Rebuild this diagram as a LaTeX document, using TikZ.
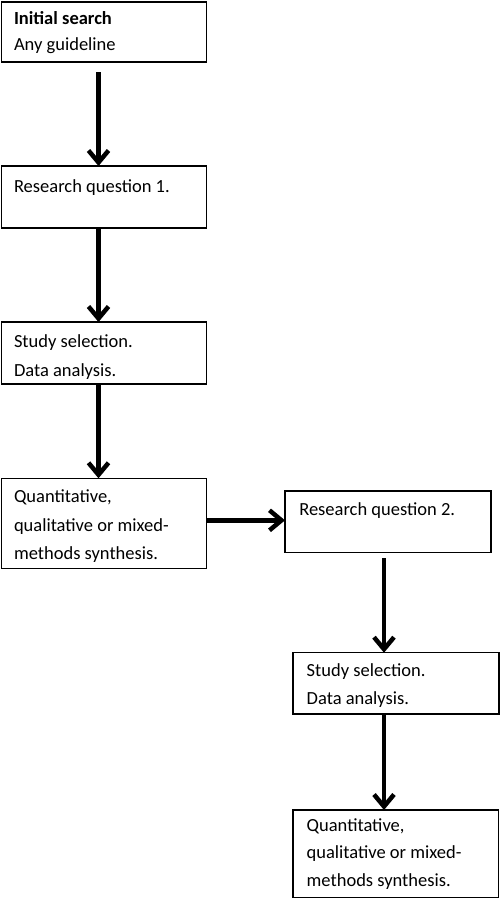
\documentclass[tikz,border=0pt]{standalone}
\usepackage{fontspec}
\setmainfont{Carlito}
\usetikzlibrary{arrows.meta}
\tikzset{
  box/.style={draw=black, line width=1.3pt, rectangle, inner sep=0pt, outer sep=0pt, anchor=north west},
  txt/.style={anchor=base west, inner sep=0pt, outer sep=0pt, font=\fontsize{18.5}{28}\selectfont},
  arr/.style={line width=4.5pt, -{Straight Barb[length=12pt,width=20pt]}}
}
\begin{document}
\begin{tikzpicture}[x=1pt,y=-1pt]
\useasboundingbox (0,0) rectangle (500,899);
% boxes
\node[box, minimum width=205pt, minimum height=60pt] (b1) at (1.5,2) {};
\node[box, minimum width=205pt, minimum height=62pt] (b2) at (1.5,166) {};
\node[box, minimum width=205pt, minimum height=62pt] (b3) at (1.5,322) {};
\node[box, minimum width=205pt, minimum height=90pt] (b4) at (1.5,478.3) {};
\node[box, minimum width=206pt, minimum height=61.3pt] (b5) at (285,491) {};
\node[box, minimum width=206pt, minimum height=61.3pt] (b6) at (293,652.7) {};
\node[box, minimum width=205.5pt, minimum height=87.5pt] (b7) at (293,810) {};
% texts
\node[txt] (t1) at ([xshift=12.5pt,yshift=-23pt]b1.north west)
  {\vtop{\baselineskip=25.7pt\hbox{\bfseries Initial search}\hbox{Any guideline}}};
\node[txt] (t2) at ([xshift=12.5pt,yshift=-26pt]b2.north west)
  {Research question 1.};
\node[txt] (t3) at ([xshift=12.5pt,yshift=-25pt]b3.north west)
  {\vtop{\baselineskip=29pt\hbox{Study selection.}\hbox{Data analysis.}}};
\node[txt] (t4) at ([xshift=12.5pt,yshift=-24.4pt]b4.north west)
  {\vtop{\baselineskip=28.3pt\hbox{Quantitative,}\hbox{qualitative or mixed-}\hbox{methods synthesis.}}};
\node[txt] (t5) at ([xshift=14.3pt,yshift=-24.7pt]b5.north west)
  {Research question 2.};
\node[txt] (t6) at ([xshift=13.7pt,yshift=-24pt]b6.north west)
  {\vtop{\baselineskip=27.5pt\hbox{Study selection.}\hbox{Data analysis.}}};
\node[txt] (t7) at ([xshift=13.7pt,yshift=-21pt]b7.north west)
  {\vtop{\baselineskip=27.5pt\hbox{Quantitative,}\hbox{qualitative or mixed-}\hbox{methods synthesis.}}};
% connectors
\draw[arr] ([xshift=-5.5pt,yshift=-10pt]b1.south) -- ([xshift=-5.5pt]b2.north);
\draw[arr] ([xshift=-5.5pt]b2.south) -- ([xshift=-5.5pt]b3.north);
\draw[arr] ([xshift=-5.5pt]b3.south) -- ([xshift=-5.5pt]b4.north);
\coordinate (h4) at ([yshift=3pt]b4.east);
\draw[arr] (h4) -- (h4 -| b5.west);
\coordinate (a4) at ([xshift=-4pt,yshift=-6pt]b5.south);
\draw[arr] (a4) -- (a4 |- b6.north);
\coordinate (a5) at ([xshift=-12pt]b6.south);
\draw[arr] (a5) -- (a5 |- b7.north);
\end{tikzpicture}
\end{document}
